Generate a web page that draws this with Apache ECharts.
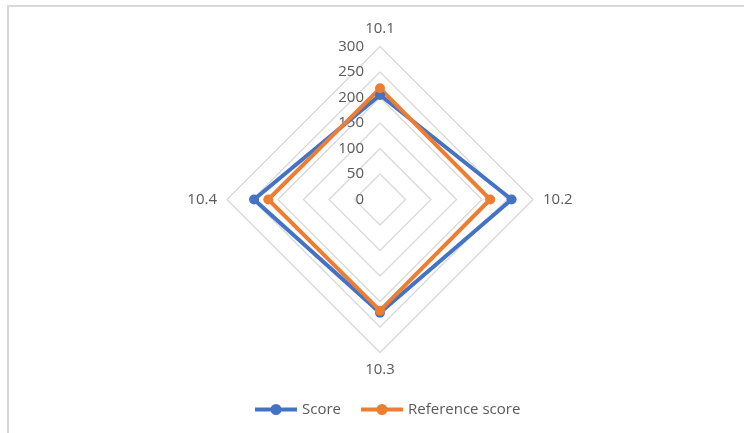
<!DOCTYPE html>
<html>
<head>
<meta charset="utf-8">
<script src="https://cdn.jsdelivr.net/npm/echarts@6/dist/echarts.min.js"></script>
<style>
  html, body { margin: 0; padding: 0; background: #fff; }
  #chart { width: 744px; height: 433px; }
</style>
</head>
<body>
<div id="chart"></div>
<script>
// Radar axes, listed clockwise from the top, and the two scored series
const indicators = ['10.1', '10.2', '10.3', '10.4'];
const scoreValues = [205, 258, 222, 247];
const referenceValues = [218, 216, 218, 219];
const axisMax = 300;
const axisSplits = 6;

const textColor = '#595959';
const fontFamily = 'Open Sans, Noto Sans, sans-serif';

// ECharts lays radar axes out counter-clockwise; keep the first axis on top
// and reverse the rest so the axes run clockwise.
const clockwise = arr => [arr[0]].concat(arr.slice(1).reverse());

// legend marker: a short thick line with a dot in the middle
const lineDotIcon = 'path://M0,3.5H42V7.5H0Z M21,0A5.5,5.5 0 1 1 20.99,0Z';

const chart = echarts.init(document.getElementById('chart'));

chart.setOption({
  animation: false,
  backgroundColor: '#fff',
  graphic: [{
    type: 'rect',
    shape: { x: 8, y: 6, width: 800, height: 500 },
    style: { fill: 'none', stroke: '#d9d9d9', lineWidth: 2 },
    silent: true
  }],
  legend: {
    bottom: 11,
    left: 250,
    icon: lineDotIcon,
    itemWidth: 42,
    itemHeight: 11,
    itemGap: 20,
    textStyle: { color: textColor, fontSize: 15, fontFamily: fontFamily },
    data: ['Score', 'Reference score']
  },
  radar: {
    center: [380, 199.5],
    radius: 153,
    startAngle: 90,
    shape: 'polygon',
    splitNumber: axisSplits,
    axisName: { color: textColor, fontSize: 15, fontFamily: fontFamily },
    nameGap: 10,
    axisLine: { show: false },
    axisTick: { show: false },
    axisLabel: { show: false },
    splitArea: { show: false },
    splitLine: { lineStyle: { color: '#d9d9d9', width: 1.3 } },
    indicator: clockwise(indicators).map((name, i) => ({
      name: name,
      min: 0,
      max: axisMax,
      // tick values are shown along the top axis only
      axisLabel: i === 0
        ? { show: true, color: textColor, fontSize: 15, fontFamily: fontFamily, margin: 16 }
        : { show: false }
    }))
  },
  series: [{
    type: 'radar',
    symbol: 'circle',
    symbolSize: 10,
    data: [
      {
        name: 'Score',
        value: clockwise(scoreValues),
        lineStyle: { color: '#4472c4', width: 4 },
        itemStyle: { color: '#4472c4' }
      },
      {
        name: 'Reference score',
        value: clockwise(referenceValues),
        lineStyle: { color: '#ed7d31', width: 4 },
        itemStyle: { color: '#ed7d31' }
      }
    ]
  }]
});
</script>
</body>
</html>
